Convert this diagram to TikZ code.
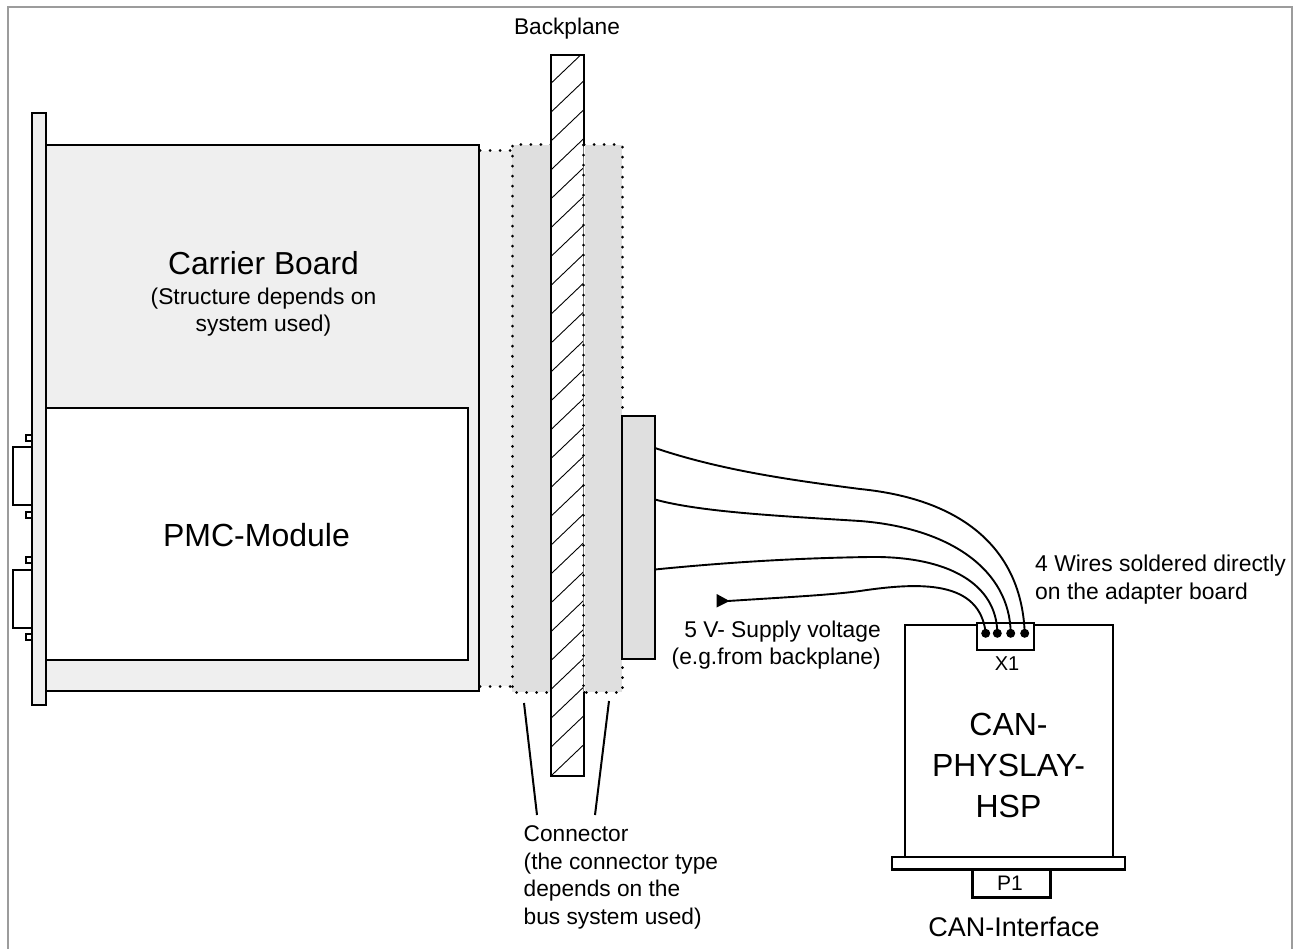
\documentclass[tikz,border=0pt]{standalone}
\usepackage{fontspec}
\setmainfont{Liberation Sans}
\definecolor{lightfill}{HTML}{EFEFEF}
\definecolor{midfill}{HTML}{DFDFDF}
\definecolor{framegray}{HTML}{9C9C9C}
\tikzset{
  part/.style={draw=black,line width=2.1pt,rectangle,inner sep=0pt,outer sep=0pt,anchor=north west},
  dotline/.style={draw=black,line width=3pt,line cap=round,dash pattern=on 0.01pt off 10pt},
  wire/.style={draw=black,line width=1.9pt},
  pin/.style={circle,fill=black,inner sep=0pt,minimum size=9pt},
  leader/.style={draw=black,line width=2pt},
  lbl/.style={inner sep=0pt,align=center,text=black},
  lbll/.style={inner sep=0pt,align=left,text=black,anchor=west},
  lblr/.style={inner sep=0pt,align=right,text=black,anchor=east}
}
\begin{document}
\begin{tikzpicture}[x=1pt,y=-1pt]
\useasboundingbox (0,0) rectangle (1293,949);
% frame
\draw[framegray,line width=2pt] (7.5,949) -- (7.5,7) -- (1292,7) -- (1292,949);
% D-sub connectors
\foreach \a/\b/\c/\d in {13/447/32/505,13/570/32/628,26/435/32/441,26/512/32/518,26/557/32/563,26/634/32/640}{
  \draw[black,line width=1.8pt,fill=white] (\a,\b) rectangle (\c,\d);}
% carrier
\node[part,fill=lightfill,minimum width=433pt,minimum height=546pt] (carrier) at (46,145) {};
\node[part,fill=lightfill,minimum width=14pt,minimum height=592pt] (panel) at (32,113) {};
\node[part,fill=white,minimum width=422pt,minimum height=252pt] (pmc) at (46,408) {};
% light extension
\fill[lightfill] (480,151) rectangle (512,686);
\draw[dotline] (480,151) -- (512,151);
\draw[dotline] (480,686) -- (512,686);
% connector left
\fill[midfill] (512,145) rectangle (551,692);
\draw[dotline] (551,145) -- (512,145) -- (512,692) -- (551,692);
% backplane
\node[part,fill=white,minimum width=33pt,minimum height=721pt] (back) at (551,55) {};
\begin{scope}
\clip (551,55) rectangle (584,776);
\foreach \k in {0,...,24}{
  \draw[black,line width=0.9pt] (551,83.3+28.86*\k) -- ++(33,-31.5);}
\end{scope}
\draw[black,line width=2.1pt] (551,55) rectangle (584,776);
% connector right
\fill[midfill] (584.8,145) rectangle (622,692);
\draw[white,line width=2.1pt] (584,146) -- (584,691);
\draw[gray,line width=.5pt] (583.6,145) -- (583.6,692);
\draw[dotline] (584,145) -- (622,145) -- (622,692) -- (584,692);
\draw[dotline] (583.6,145) -- (583.6,692);
% adapter
\node[part,fill=midfill,minimum width=33pt,minimum height=243pt] (adapter) at (622,416) {};
% CAN board
\node[part,fill=white,minimum width=208pt,minimum height=232pt] (can) at (905,625) {};
\node[part,fill=white,minimum width=57pt,minimum height=27pt] (x1) at (977,623) {};
\node[part,fill=white,minimum width=233pt,minimum height=12.5pt] (plate) at (892,857) {};
\node[part,fill=white,minimum width=78pt,minimum height=28pt] (p1) at (972.5,869.5) {};
% pins
\node[pin] (p1a) at (985.7,633.3) {};
\node[pin] (p2a) at (997.3,633.3) {};
\node[pin] (p3a) at (1010.7,633.3) {};
\node[pin] (p4a) at (1024.7,633.3) {};
% wires
\coordinate (w1) at (655,448);
\coordinate (w2) at (655,499.5);
\coordinate (w3) at (655,569.5);
\coordinate (w4) at (728,601);
\draw[wire] (w1) .. controls (720,470) and (790,480) .. (860,489) .. controls (970,500) and (1022,555) .. (p4a.center);
\draw[wire] (w2) .. controls (700,512) and (780,516) .. (860,521) .. controls (950,528) and (1010,570) .. (p3a.center);
\draw[wire] (w3) .. controls (730,562) and (800,558) .. (870,557) .. controls (950,556) and (997,585) .. (p2a.center);
\draw[wire] (w4) .. controls (790,597) and (830,595) .. (860,591) .. controls (920,582) and (980,580) .. (p1a.center);
\fill[black] (716.7,594) -- (729.5,601) -- (716.7,607.5) -- cycle;
% leaders
\coordinate (la) at (524,703); \coordinate (lb) at (537,815);
\coordinate (lc) at (609,701); \coordinate (ld) at (595,815);
\draw[leader] (la) -- (lb);
\draw[leader] (lc) -- (ld);
% text
\node[lbl,font=\fontsize{22.7}{27}\selectfont] (tbp) at (567,29) {Backplane};
\node[lbl,font=\fontsize{31.8}{36}\selectfont] (tcb) at (263.5,263) {Carrier Board};
\node[lbl,font=\fontsize{22.8}{27}\selectfont] (tcs) at (263.5,312.5) {(Structure depends on\\system used)};
\node[lbl,font=\fontsize{32}{36}\selectfont] (tpm) at (256.5,535) {PMC-Module};
\node[lbll,font=\fontsize{22.7}{27.5}\selectfont] (tcn) at (523.5,877.5) {Connector\\(the connector type\\depends on the\\bus system used)};
\node[lblr,font=\fontsize{22.8}{27}\selectfont] (t5v) at (881,645.5) {5 V- Supply voltage\\(e.g.from backplane)};
\node[lbll,font=\fontsize{22.9}{28}\selectfont] (t4w) at (1035,579.5) {4 Wires soldered directly\\on the adapter board};
\node[lbl,font=\fontsize{20}{24}\selectfont] (tx1) at (1007,663.5) {X1};
\node[lbl,font=\fontsize{32}{41}\selectfont] (tcp) at (1008.5,765) {CAN-\\PHYSLAY-\\HSP};
\node[lbl,font=\fontsize{21}{25}\selectfont] (tp1) at (1010,883) {P1};
\node[lbl,font=\fontsize{27}{31}\selectfont] (tci) at (1014,927) {CAN-Interface};
\end{tikzpicture}
\end{document}
